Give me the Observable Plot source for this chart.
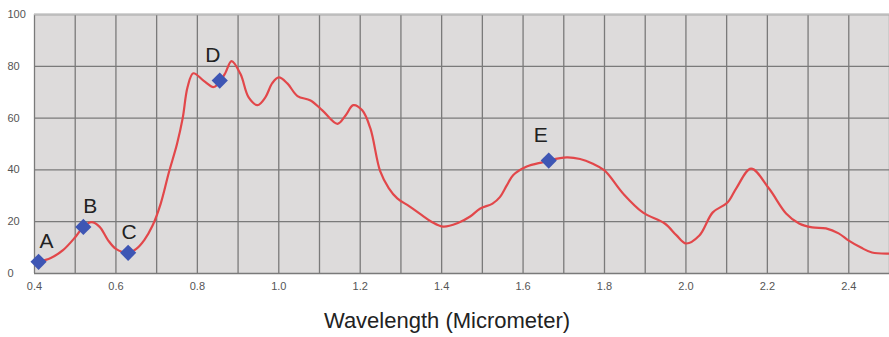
<!DOCTYPE html>
<html>
<head>
<meta charset="utf-8">
<script src="https://cdn.jsdelivr.net/npm/d3@7"></script>
<script src="https://cdn.jsdelivr.net/npm/@observablehq/plot@0.6"></script>
<style>
  html, body { margin: 0; padding: 0; background: #ffffff; }
  #chart { width: 889px; height: 337px; overflow: hidden; }
</style>
</head>
<body>
<div id="chart"></div>
<script>
// Spectral curve (wavelength in micrometers, value in %)
const wavelength = [0.41,0.44,0.47,0.50,0.52,0.54,0.56,0.58,0.60,0.63,0.65,0.67,0.69,0.71,0.73,0.75,0.764,0.776,0.79,0.815,0.84,0.857,0.869,0.884,0.906,0.926,0.948,0.967,0.984,1.0,1.021,1.046,1.078,1.107,1.144,1.164,1.183,1.205,1.225,1.249,1.27,1.291,1.32,1.347,1.375,1.404,1.44,1.47,1.494,1.525,1.543,1.56,1.576,1.609,1.649,1.663,1.707,1.74,1.77,1.80,1.845,1.894,1.948,1.977,2.0,2.033,2.066,2.102,2.124,2.16,2.204,2.246,2.278,2.31,2.344,2.375,2.40,2.43,2.457,2.5];
const reflectance = [4.5,6,9,14,18,19.8,18,13,9.5,8,9.5,13,18.5,27,39,50,60,72,77.3,74.5,72,74.5,77.5,82,77,68,65,68,73.5,75.7,73.4,68.5,66.8,63,57.8,61,65,63,56,39.5,33,29,26,23,20,18.1,19.5,22,25,27,29.5,34,38,41.3,43,43.6,44.8,44.2,42.5,39.8,31,23.6,19.3,14.7,11.6,14.7,23.6,27.4,33,40.5,32.8,23.2,19.3,17.8,17.4,15.5,12.7,10,8.1,7.7];

// Marked points
const markerLabels = ["A","B","C","D","E"];
const markerX = [0.41,0.52,0.63,0.855,1.663];
const markerY = [4.5,18,8,74.5,43.6];

// Ticks
const xTicks = [0.4,0.6,0.8,1.0,1.2,1.4,1.6,1.8,2.0,2.2,2.4];
const yTicks = [0,20,40,60,80,100];
const xGrid = d3.range(0,22).map(i => +(0.4 + i*0.1).toFixed(1));
const xTitle = "Wavelength (Micrometer)";

const curve = wavelength.map((w,i) => ({w, v: reflectance[i]}));
const markers = markerLabels.map((l,i) => ({label: l, x: markerX[i], y: markerY[i]}));

// label nudges (style)
const nudge = {A:[8,-21], B:[7,-21], C:[1,-21], D:[-7,-25], E:[-8,-25]};

const chart = Plot.plot({
  width: 889,
  height: 337,
  marginLeft: 34,
  marginRight: 0,
  marginTop: 14,
  marginBottom: 64,
  style: {fontFamily: "'Liberation Sans', Arial, sans-serif", background: "#ffffff"},
  x: {domain: [0.4, 2.5]},
  y: {domain: [0, 100]},
  marks: [
    Plot.frame({fill: "#dddbdb", stroke: null}),
    Plot.gridY(yTicks, {stroke: "#7a7a7a", strokeOpacity: 1, strokeWidth: 1.3}),
    Plot.gridX(xGrid, {stroke: "#7a7a7a", strokeOpacity: 1, strokeWidth: 1.3}),
    Plot.ruleY([100], {stroke: "#bdbdbd", strokeWidth: 1.5}),
    Plot.axisX(xTicks, {tickSize: 0, tickPadding: 9, tickFormat: d3.format(".1f"), fontSize: 11, fill: "#555", label: null}),
    Plot.axisY(yTicks, {tickSize: 0, tickPadding: 27, textAnchor: "start", fontSize: 11, fill: "#555", label: null}),
    Plot.line(curve, {x: "w", y: "v", stroke: "#e2474a", strokeWidth: 2.2, curve: "catmull-rom"}),
    Plot.dot(markers, {x: "x", y: "y", symbol: "diamond2", r: 7.3, fill: "#3e56b4", stroke: "none"}),
    ...markers.map(m => Plot.text([m], {x: "x", y: "y", text: "label", dx: nudge[m.label][0], dy: nudge[m.label][1], fontSize: 21, fill: "#222"})),
    Plot.text([xTitle], {frameAnchor: "bottom", dx: -15, dy: 54, fontSize: 22, fill: "#222"})
  ]
});
document.getElementById("chart").appendChild(chart);
</script>
</body>
</html>
